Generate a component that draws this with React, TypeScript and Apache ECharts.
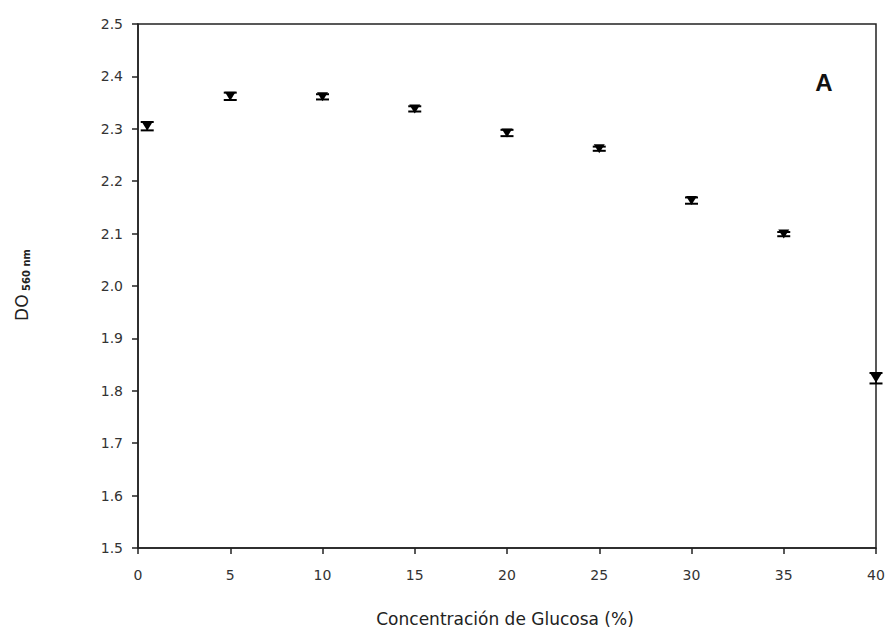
import React, { useEffect, useRef } from "react";
import * as echarts from "echarts";

const glucose = [0.5, 5, 10, 15, 20, 25, 30, 35, 40];
const od560 = [2.305, 2.362, 2.361, 2.338, 2.292, 2.262, 2.163, 2.099, 1.824];
const errors = [0.008, 0.007, 0.005, 0.005, 0.006, 0.004, 0.006, 0.004, 0.01];
const xTicks = [0, 5, 10, 15, 20, 25, 30, 35, 40];
const yTicks = [1.5, 1.6, 1.7, 1.8, 1.9, 2.0, 2.1, 2.2, 2.3, 2.4, 2.5];

const FONT = "'DejaVu Sans', Verdana, sans-serif";

export default function App() {
  const ref = useRef<HTMLDivElement>(null);
  useEffect(() => {
    if (!ref.current) return;
    const chart = echarts.init(ref.current, undefined, { renderer: "svg" });
    const data = glucose.map((x, i) => [x, od560[i], od560[i] - errors[i], od560[i] + errors[i]]);
    chart.setOption({
      animation: false,
      backgroundColor: "#fff",
      grid: {
        left: 138,
        right: 15,
        top: 24,
        bottom: 87,
        show: true,
        borderColor: "#222",
        borderWidth: 1.5,
      },
      xAxis: {
        type: "value",
        min: 0,
        max: 40,
        interval: 5,
        axisLine: { show: true, lineStyle: { color: "#222", width: 1.5 } },
        axisTick: { show: true, length: 6, inside: false, lineStyle: { color: "#222", width: 1.5 } },
        axisLabel: {
          color: "#333",
          fontFamily: FONT,
          fontSize: 14,
          margin: 20,
          formatter: (v: number) => (xTicks.includes(v) ? String(v) : ""),
        },
        splitLine: { show: false },
      },
      yAxis: {
        type: "value",
        min: 1.5,
        max: 2.5,
        interval: 0.1,
        axisLine: { show: true, lineStyle: { color: "#222", width: 1.5 } },
        axisTick: { show: true, length: 6, inside: false, lineStyle: { color: "#222", width: 1.5 } },
        axisLabel: {
          color: "#333",
          fontFamily: FONT,
          fontSize: 14,
          margin: 15,
          formatter: (v: number) => {
            const t = yTicks.find((y) => Math.abs(y - v) < 1e-6);
            return t !== undefined ? t.toFixed(1) : "";
          },
        },
        splitLine: { show: false },
      },
      series: [
        {
          type: "custom",
          data,
          encode: { x: 0, y: [1, 2, 3] },
          renderItem: (params: any, api: any) => {
            const x = api.value(0);
            const p = api.coord([x, api.value(1)]);
            const lo = api.coord([x, api.value(2)]);
            const hi = api.coord([x, api.value(3)]);
            const cw = 6.5;
            const tw = 5.5;
            const th = 4.5;
            return {
              type: "group",
              children: [
                {
                  type: "line",
                  shape: { x1: p[0], y1: hi[1], x2: p[0], y2: lo[1] },
                  style: { stroke: "#000", lineWidth: 1.5 },
                },
                {
                  type: "line",
                  shape: { x1: p[0] - cw, y1: hi[1], x2: p[0] + cw, y2: hi[1] },
                  style: { stroke: "#000", lineWidth: 2 },
                },
                {
                  type: "line",
                  shape: { x1: p[0] - cw, y1: lo[1], x2: p[0] + cw, y2: lo[1] },
                  style: { stroke: "#000", lineWidth: 2 },
                },
                {
                  type: "polygon",
                  shape: {
                    points: [
                      [p[0] - tw, p[1] - th],
                      [p[0] + tw, p[1] - th],
                      [p[0], p[1] + th],
                    ],
                  },
                  style: { fill: "#000" },
                },
              ],
            };
          },
        },
      ],
      graphic: [
        {
          type: "text",
          x: 505,
          y: 619,
          style: {
            text: "Concentración de Glucosa (%)",
            fontFamily: FONT,
            fontSize: 17,
            fill: "#222",
            textAlign: "center",
            textVerticalAlign: "middle",
          },
        },
        {
          type: "text",
          x: 22,
          y: 285,
          rotation: Math.PI / 2,
          style: {
            text: "{a|DO}{b| 560 nm}",
            textAlign: "center",
            textVerticalAlign: "middle",
            rich: {
              a: { fontFamily: FONT, fontSize: 17, fill: "#222", lineHeight: 20 },
              b: { fontFamily: FONT, fontSize: 10, fill: "#222", fontWeight: "bold", padding: [9, 0, 0, 0], lineHeight: 20 },
            },
          },
        },
        {
          type: "text",
          x: 824,
          y: 82,
          style: {
            text: "A",
            fontFamily: "'Liberation Sans', Arial, sans-serif",
            fontSize: 24,
            fontWeight: "bold",
            fill: "#111",
            textAlign: "center",
            textVerticalAlign: "middle",
          },
        },
      ],
    });
    return () => chart.dispose();
  }, []);
  return <div ref={ref} style={{ width: 891, height: 635, position: "absolute", left: 0, top: 0 }} />;
}
